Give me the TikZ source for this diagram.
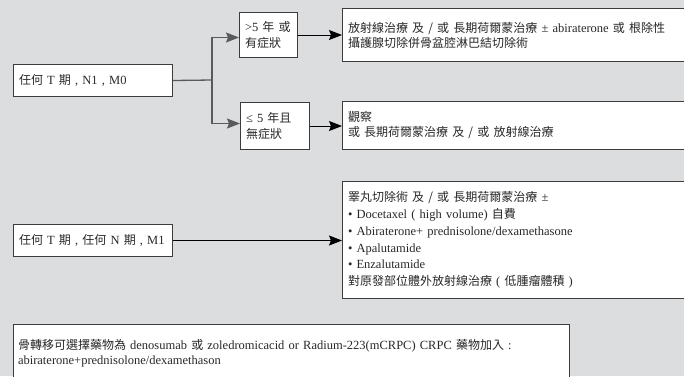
\documentclass[tikz,border=0pt]{standalone}
\usepackage{fontspec}
\setmainfont{Liberation Serif}
\newfontfamily\cjk[Scale=0.96]{Noto Sans CJK TC}
\usetikzlibrary{arrows.meta}
\definecolor{paper}{RGB}{220,221,223}
\definecolor{edge}{RGB}{60,60,60}
\definecolor{wire}{RGB}{90,90,90}
\definecolor{ink}{RGB}{40,40,40}
\newcommand{\zh}[1]{{\cjk #1}}
% body text with a fixed line pitch
\newcommand{\bodyfont}[1]{\fontsize{12.5}{#1}\selectfont\lineskiplimit=-20pt\relax}
\tikzset{
  boxed/.style={draw=edge, fill=white, line width=1pt, anchor=north west,
    inner xsep=5.5pt, inner ysep=0pt, align=left, text=ink,
    font=\bodyfont{15.5}},
  arr/.style={-{Stealth[length=13pt,width=10pt,inset=2pt]}},
  wire/.style={draw=wire, line width=1.3pt},
  lead/.style={draw=black, line width=0.9pt}
}
\begin{document}
\begin{tikzpicture}[x=1pt,y=-1pt]
  \path[use as bounding box, fill=paper] (0,0) rectangle (684,376);
  \clip (0,0) rectangle (684,376);

  % stage boxes on the left
  \node[boxed, text width=148pt, minimum height=32pt] (a) at (13,64)
    {\zh{任何} T \zh{期} , N1 , M0};
  \node[boxed, text width=148pt, minimum height=32pt] (d1) at (13,224)
    {\zh{任何} T \zh{期} , \zh{任何} N \zh{期} , M1};

  % branch boxes
  \node[boxed, text width=47pt, minimum height=45pt,
        font=\bodyfont{16}] (b1) at (239,12)
    {>5 \zh{年 或}\\\zh{有症狀}};
  \node[boxed, text width=58pt, minimum height=47pt,
        font=\bodyfont{16}] (b2) at (240,102)
    {≤ 5 \zh{年且}\\\zh{無症狀}};

  % treatment boxes (run off the right edge)
  \node[boxed, text width=350pt, minimum height=53pt,
        font=\bodyfont{15}] (c1) at (342,8)
    {\zh{放射線治療 及 / 或 長期荷爾蒙治療} ± abiraterone \zh{或 根除性}\\
     \zh{攝護腺切除併骨盆腔淋巴結切除術}};
  \node[boxed, text width=350pt, minimum height=48pt,
        font=\bodyfont{15}] (c2) at (342,101)
    {\zh{觀察}\\\zh{或 長期荷爾蒙治療 及 / 或 放射線治療}};
  \node[boxed, text width=350pt, minimum height=117pt,
        font=\bodyfont{16.8}] (d2) at (342,181)
    {\zh{睪丸切除術 及 / 或 長期荷爾蒙治療} ±\\
     • Docetaxel ( high volume) \zh{自費}\\
     • Abiraterone+ prednisolone/dexamethasone\\
     • Apalutamide\\
     • Enzalutamide\\
     \zh{對原發部位體外放射線治療} ( \zh{低腫瘤體積} )};

  % note box at the bottom, its lower edge runs off the page
  \node[boxed, text width=547pt, minimum height=58pt, inner xsep=4.5pt,
        font=\bodyfont{14.5}] (e) at (13,324)
    {\zh{骨轉移可選擇藥物為} denosumab \zh{或} zoledromicacid or Radium-223(mCRPC) CRPC \zh{藥物加入} :\\
     abiraterone+prednisolone/dexamethason};

  % connectors
  \coordinate (j) at (212,80);
  \draw[wire] (a.east) -- (j);
  \draw[wire, arr] (j) |- ([yshift=-2.5pt]b1.west);
  \draw[wire, arr] (j) |- ([yshift=2.5pt]b2.west);
  \draw[lead, arr] (b1.east) -- (b1.east -| c1.west);
  \draw[lead, arr] (b2.east) -- (b2.east -| c2.west);
  \draw[lead, arr] (d1.east) -- (d1.east -| d2.west);
\end{tikzpicture}
\end{document}
